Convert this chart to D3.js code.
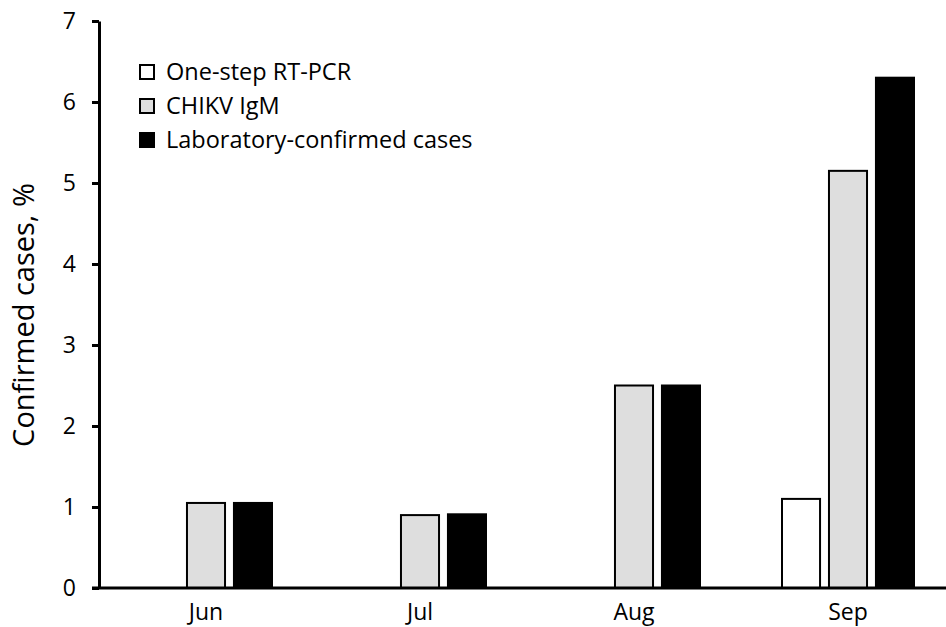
<html>
<head>
<script src="https://cdn.jsdelivr.net/npm/d3@7"></script>
<style>
  body { margin: 0; background: #fff; }
  text { font-family: "Open Sans", "Noto Sans", sans-serif; }
</style>
</head>
<body>
<div id="chart"></div>
<script>
// data
const months = ["Jun", "Jul", "Aug", "Sep"];
const seriesNames = ["One-step RT-PCR", "CHIKV IgM", "Laboratory-confirmed cases"];
const rtpcr = [0, 0, 0, 1.1];
const igm = [1.05, 0.9, 2.5, 5.15];
const labConfirmed = [1.05, 0.91, 2.5, 6.3];
const yTicks = [0, 1, 2, 3, 4, 5, 6, 7];

const fills = ["#ffffff", "#dedede", "#000000"];
const width = 946, height = 627;

const svg = d3.select("#chart").append("svg")
  .attr("width", width).attr("height", height);

const x = d3.scaleBand().domain(months).range([99, 955]).padding(0);
const sub = d3.scaleBand().domain([0, 1, 2]).range([-66, 66]).paddingInner(0.19);
const y = d3.scaleLinear().domain([0, 7]).range([588, 21]);

const series = [rtpcr, igm, labConfirmed];
const rows = [];
series.forEach((vals, s) => vals.forEach((v, i) => {
  if (v > 0) rows.push({ month: months[i], s, v });
}));

svg.append("g").selectAll("rect")
  .data(rows)
  .join("rect")
  .attr("x", d => x(d.month) + x.bandwidth() / 2 + sub(d.s))
  .attr("width", sub.bandwidth())
  .attr("y", d => y(d.v))
  .attr("height", d => y(0) - y(d.v))
  .attr("fill", d => fills[d.s])
  .attr("stroke", "#000")
  .attr("stroke-width", 2);

// y axis
const yAxis = svg.append("g")
  .attr("transform", "translate(99,0)")
  .call(d3.axisLeft(y).tickValues(yTicks).tickFormat(d3.format("d"))
    .tickSize(7).tickSizeOuter(0).tickPadding(16));
yAxis.select(".domain").attr("stroke-width", 3);
yAxis.selectAll(".tick line").attr("stroke-width", 3);
yAxis.selectAll("text").attr("font-size", 23).attr("fill", "#000");

// x axis
const xAxis = svg.append("g")
  .attr("transform", "translate(0,588)")
  .call(d3.axisBottom(x).tickSize(0).tickPadding(16));
xAxis.select(".domain").attr("d", "M92,0H946").attr("stroke-width", 3);
xAxis.selectAll("text").attr("font-size", 23).attr("fill", "#000");

svg.append("text")
  .attr("transform", "translate(34,315) rotate(-90)")
  .attr("text-anchor", "middle")
  .attr("font-size", 29)
  .text("Confirmed cases, %");

// legend
const legend = svg.append("g").attr("transform", "translate(140,65)");
const item = legend.selectAll("g")
  .data(seriesNames)
  .join("g")
  .attr("transform", (d, i) => `translate(0,${i * 34})`);
item.append("rect")
  .attr("width", 14).attr("height", 14)
  .attr("fill", (d, i) => fills[i])
  .attr("stroke", "#000").attr("stroke-width", 2);
item.append("text")
  .attr("x", 26).attr("y", 7).attr("dy", "0.35em")
  .attr("font-size", 23.5)
  .text(d => d);
</script>
</body>
</html>
